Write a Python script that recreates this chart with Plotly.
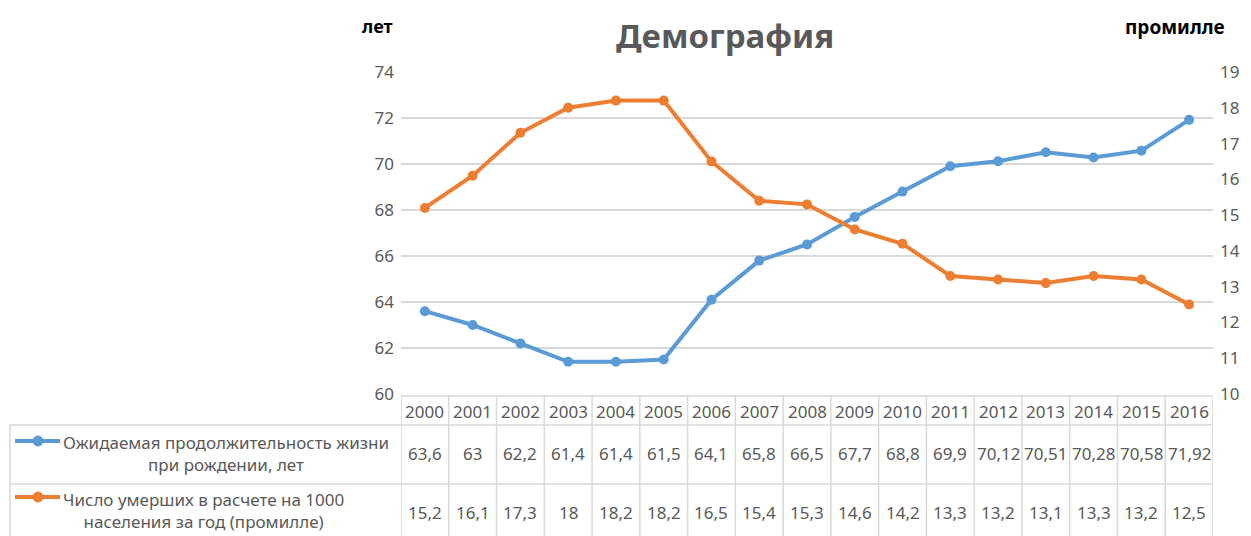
import plotly.graph_objects as go

years = list(range(2000, 2017))
life = [63.6, 63, 62.2, 61.4, 61.4, 61.5, 64.1, 65.8, 66.5, 67.7, 68.8, 69.9, 70.12, 70.51, 70.28, 70.58, 71.92]
deaths = [15.2, 16.1, 17.3, 18, 18.2, 18.2, 16.5, 15.4, 15.3, 14.6, 14.2, 13.3, 13.2, 13.1, 13.3, 13.2, 12.5]
name_life = "Ожидаемая продолжительность жизни<br>при рождении, лет"
name_death = "Число умерших в расчете на 1000<br>населения за год (промилле)"
title = "Демография"
left_title = "лет"
right_title = "промилле"

BLUE = "#5B9BD5"
ORANGE = "#ED7D31"
GRID = "#D9D9D9"
TXT = "#595959"
FONT = "Noto Sans"

W, H = 1251, 536
ML, MR, MT, MB = 401, 38, 72, 142
PH = H - MT - MB
PW = W - ML - MR

def py(p):  # pixel y -> paper y
    return (H - MB - p) / PH

def px(p):  # pixel x -> paper x
    return (p - ML) / PW

def fmt(v):
    return f"{v:g}".replace(".", ",")

fig = go.Figure()
fig.add_trace(go.Scatter(x=years, y=life, mode="lines+markers", name="life",
                         line=dict(color=BLUE, width=4), marker=dict(size=10, color=BLUE),
                         yaxis="y"))
fig.add_trace(go.Scatter(x=years, y=deaths, mode="lines+markers", name="deaths",
                         line=dict(color=ORANGE, width=4), marker=dict(size=10, color=ORANGE),
                         yaxis="y2"))

shapes = []
bottom = py(H + 5)
# vertical table lines
for i in range(len(years) + 1):
    xv = years[0] - 0.5 + i
    shapes.append(dict(type="line", xref="x", yref="paper", x0=xv, x1=xv,
                       y0=py(396), y1=bottom, line=dict(color=GRID, width=1.5)))
shapes.append(dict(type="line", xref="paper", yref="paper", x0=px(10), x1=px(10),
                   y0=py(425), y1=bottom, line=dict(color=GRID, width=1.5)))
shapes.append(dict(type="line", xref="paper", yref="paper", x0=0, x1=1,
                   y0=py(396), y1=py(396), line=dict(color=GRID, width=1.5)))
for yy in (425, 484):
    shapes.append(dict(type="line", xref="paper", yref="paper", x0=px(10), x1=1,
                       y0=py(yy), y1=py(yy), line=dict(color=GRID, width=1.5)))
# legend keys
for col, yy in ((BLUE, 441), (ORANGE, 497)):
    shapes.append(dict(type="line", xref="paper", yref="paper", x0=px(15), x1=px(60),
                       y0=py(yy), y1=py(yy), line=dict(color=col, width=4)))
    shapes.append(dict(type="circle", xref="paper", yref="paper", x0=px(33), x1=px(43),
                       y0=py(yy + 5), y1=py(yy - 5), fillcolor=col, line=dict(color=col, width=1)))

def A(**kw):
    d = dict(showarrow=False, xanchor="center", yanchor="middle")
    d.update(kw)
    return d

tf = dict(size=17, color=TXT, family=FONT)
ann = []
for i, yr in enumerate(years):
    ann.append(A(x=yr, y=py(411), xref="x", yref="paper", text=str(yr), font=tf))
    ann.append(A(x=yr, y=py(454), xref="x", yref="paper", text=fmt(life[i]), font=tf))
    ann.append(A(x=yr, y=py(512), xref="x", yref="paper", text=fmt(deaths[i]), font=tf))
ann.append(A(x=px(61), y=py(454), xref="paper", yref="paper", text=name_life,
             xanchor="left", align="center", font=tf))
ann.append(A(x=px(61), y=py(510), xref="paper", yref="paper", text=name_death,
             xanchor="left", align="center", font=tf))
ann.append(A(x=px(725), y=py(35), xref="paper", yref="paper", text="<b>" + title + "</b>",
             font=dict(size=33, color=TXT, family=FONT)))
ann.append(A(x=px(377), y=py(26), xref="paper", yref="paper", text="<b>" + left_title + "</b>",
             font=dict(size=18, color="#000000", family=FONT)))
ann.append(A(x=px(1175), y=py(27), xref="paper", yref="paper", text="<b>" + right_title + "</b>",
             font=dict(size=19, color="#000000", family=FONT)))

fig.update_layout(
    width=W, height=H, margin=dict(l=ML, r=MR, t=MT, b=MB, pad=0),
    paper_bgcolor="white", plot_bgcolor="white", showlegend=False,
    xaxis=dict(range=[years[0] - 0.5, years[-1] + 0.5], showgrid=False, zeroline=False,
               showticklabels=False, ticks="", showline=False),
    yaxis=dict(range=[60, 74], dtick=2, showgrid=True, gridcolor=GRID, gridwidth=1.5,
               zeroline=False, showline=False, ticks="",
               tickfont=tf, ticklabelstandoff=6),
    yaxis2=dict(range=[10, 19], dtick=1, overlaying="y", side="right", showgrid=False,
                zeroline=False, showline=False, ticks="",
                tickfont=tf, ticklabelstandoff=6),
    shapes=shapes, annotations=ann,
)
fig.write_html("out.html", config={"displayModeBar": False},
               post_script="document.body.style.margin='0';document.body.style.overflow='hidden';")
